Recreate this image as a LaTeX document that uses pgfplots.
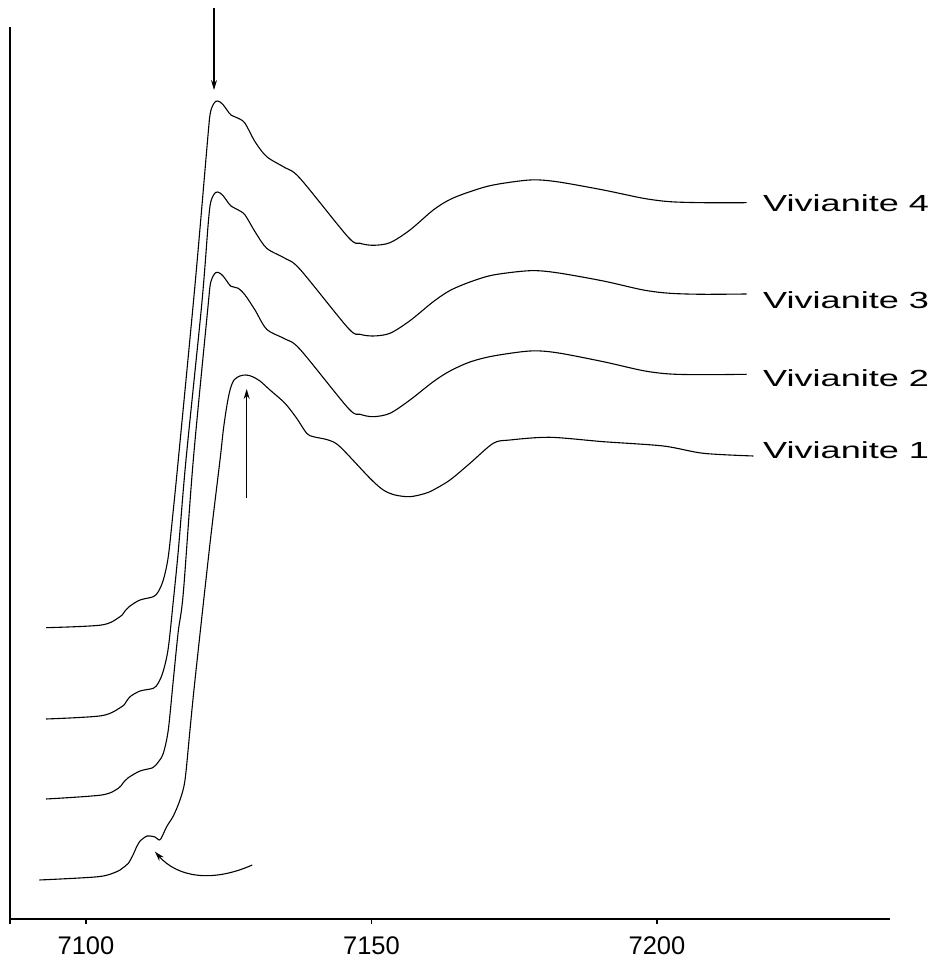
\documentclass[border=0pt]{standalone}
\usepackage{pgfplots}
\pgfplotsset{compat=1.18}
\usepackage{fontspec}
\setmainfont{Liberation Sans}
\usetikzlibrary{arrows.meta}
\newcommand\tickfont{\fontsize{25.5bp}{30bp}\selectfont}
\newcommand\labfont{\fontsize{23.3bp}{28bp}\selectfont}
\newcommand\lab[1]{\labfont\scalebox{1.55}[1]{#1}}
\pgfplotsset{curve/.style={black, line width=1.1bp, no marks, smooth, tension=0.5}}
\begin{document}
\begin{tikzpicture}
\useasboundingbox (-10bp,-49bp) rectangle (929bp,919bp);
\begin{axis}[
  at={(0,0)}, anchor=south west,
  scale only axis, width=880bp, height=892bp,
  xmin=7086.69, xmax=7240.81, ymin=0, ymax=892,
  axis x line=bottom, axis y line=left,
  axis line style={-, line width=2bp, black},
  ytick=\empty,
  xtick={7086.69,7100,7150,7200}, xticklabels={,7100,7150,7200},
  tick align=outside, major tick length=5bp,
  x tick style={line width=1.2bp, black},
  xticklabel style={font=\tickfont, yshift=-9.5bp},
  /pgf/number format/assume math mode=true,
  clip=false,
]
% Vivianite 4
\addplot[curve] table {
7093.00 291.3
7102.75 294.0
7105.95 302.3
7106.83 308.0
7107.71 313.0
7109.46 319.0
7111.79 322.3
7112.66 327.3
7113.54 339.0
7114.41 362.3
7115.29 409.0
7116.16 459.0
7119.09 634.0
7121.37 784.0
7121.72 804.0
7121.98 810.5
7122.29 814.5
7122.68 817.5
7123.06 818.0
7123.47 817.0
7124.05 814.0
7124.69 809.0
7125.39 804.0
7126.67 800.7
7127.85 795.7
7129.60 777.3
7131.65 762.3
7134.85 751.3
7137.48 740.7
7145.94 681.7
7147.99 675.7
7150.32 673.7
7153.24 676.3
7156.74 689.0
7160.82 709.0
7163.75 719.5
7167.25 727.3
7171.33 734.0
7177.76 739.0
7182.43 737.3
7190.60 729.0
7197.60 720.7
7202.28 717.3
7208.11 716.3
7215.71 716.3
};
% Vivianite 3
\addplot[curve] table {
7093.00 200.0
7102.75 203.3
7106.25 212.3
7107.01 217.0
7107.71 222.3
7109.46 228.0
7111.79 230.7
7112.66 236.0
7113.54 248.0
7114.41 271.0
7115.29 318.0
7116.16 368.0
7117.51 459.0
7120.26 614.0
7121.37 693.0
7121.72 713.0
7121.98 719.5
7122.29 723.5
7122.68 726.5
7123.06 727.0
7123.47 726.0
7124.05 723.0
7124.69 718.0
7125.39 713.0
7126.67 709.0
7127.85 704.0
7129.60 687.3
7131.65 670.7
7134.85 660.7
7137.48 649.7
7145.94 590.7
7147.99 584.7
7150.32 583.0
7153.24 585.7
7156.74 598.3
7160.82 617.3
7163.75 628.5
7167.25 637.0
7171.33 644.0
7177.76 648.3
7182.43 646.3
7190.60 638.0
7197.60 629.0
7202.28 625.7
7208.11 624.7
7215.71 625.0
};
% Vivianite 2
\addplot[curve] table {
7093.00 120.0
7102.75 124.0
7105.66 130.7
7106.48 136.0
7107.41 141.3
7109.46 148.0
7111.68 151.3
7112.66 157.0
7113.54 165.7
7114.41 189.0
7115.29 239.0
7116.16 287.7
7117.04 326.0
7118.79 459.0
7121.37 612.7
7121.72 632.7
7121.98 639.2
7122.29 643.2
7122.68 646.2
7123.06 646.7
7123.47 645.7
7124.05 642.7
7124.69 637.7
7125.39 632.7
7126.67 630.7
7127.85 624.0
7129.60 609.0
7131.65 589.7
7134.85 580.0
7137.48 569.7
7145.94 510.7
7147.99 504.7
7150.32 502.3
7153.24 505.7
7156.74 519.0
7160.82 537.3
7163.75 548.0
7167.25 557.0
7171.33 563.0
7177.76 568.0
7182.43 566.3
7190.60 557.3
7197.60 548.3
7202.28 545.0
7208.11 544.3
7215.71 544.7
};
% Vivianite 1
\addplot[curve] table {
7091.82 39.0
7102.15 42.3
7105.38 47.3
7106.30 50.5
7107.41 55.7
7108.23 64.0
7108.88 72.3
7109.46 78.0
7110.04 80.7
7110.68 83.0
7111.21 83.0
7112.08 82.0
7112.70 79.3
7113.13 80.3
7114.13 92.3
7115.29 103.0
7116.46 119.0
7117.34 139.0
7118.21 189.0
7119.09 239.0
7121.72 375.7
7123.47 459.0
7124.05 489.0
7124.64 512.3
7125.22 529.0
7125.92 539.0
7126.97 543.0
7128.02 544.0
7129.07 542.5
7130.47 538.0
7132.22 529.0
7134.85 515.7
7136.90 500.7
7138.65 485.7
7139.81 482.3
7142.43 479.0
7144.48 472.3
7149.74 440.7
7152.07 429.0
7154.12 424.0
7156.74 422.3
7159.37 425.5
7160.82 429.0
7163.75 439.0
7167.25 455.7
7171.33 475.7
7174.26 479.0
7181.26 481.7
7190.60 477.3
7201.10 473.0
7208.11 465.7
7216.87 463.0
};
% annotations
\draw[line width=1.1bp, -{Stealth[length=10bp,width=6bp]}] (axis cs:7122.42,911) -- (axis cs:7122.42,829);
\draw[line width=1.1bp, -{Stealth[length=10bp,width=6bp]}] (axis cs:7128.14,421) -- (axis cs:7128.14,530);
\draw[line width=1.1bp, -{Stealth[length=10bp,width=6bp]}] (axis cs:7129.12,54) .. controls (axis cs:7122,36) and (axis cs:7116,42) .. (axis cs:7112.08,67.3);
\node[anchor=west, inner sep=0pt] at (axis cs:7218.56,716) {\lab{Vivianite 4}};
\node[anchor=west, inner sep=0pt] at (axis cs:7218.56,619) {\lab{Vivianite 3}};
\node[anchor=west, inner sep=0pt] at (axis cs:7218.56,541) {\lab{Vivianite 2}};
\node[anchor=west, inner sep=0pt] at (axis cs:7218.56,469) {\lab{Vivianite 1}};
\end{axis}
\end{tikzpicture}
\end{document}
